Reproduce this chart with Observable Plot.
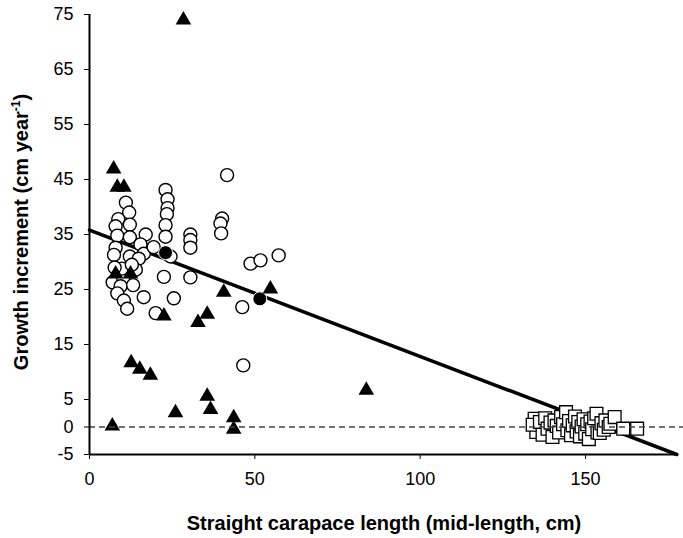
<!DOCTYPE html>
<html><head><meta charset="utf-8">
<script src="https://cdn.jsdelivr.net/npm/d3@7"></script>
<script src="https://cdn.jsdelivr.net/npm/@observablehq/plot@0.6"></script>
<style>body{margin:0;background:#fff} svg{font-family:Arial,"Liberation Sans",sans-serif}</style>
</head><body><div id="chart"></div>
<script>
const xTicks = [0, 50, 100, 150];
const yTicks = [75, 65, 55, 45, 35, 25, 15, 5, 0, -5];
const xTitle = "Straight carapace length (mid-length, cm)";
const yTitleMain = "Growth increment (cm year";
const yTitleSup = "-1";
const yTitleEnd = ")";

// filled triangles
const triX = [28.4, 7.3, 8.4, 10.4, 7.9, 12.4, 12.6, 15.2, 18.4, 6.9, 26.0, 22.5, 32.8, 35.6, 35.6, 36.6, 40.6, 43.6, 43.6, 54.7, 83.7];
const triY = [74.0, 46.9, 43.6, 43.6, 27.8, 27.8, 11.7, 10.5, 9.4, 0.2, 2.6, 20.2, 19.0, 20.5, 5.6, 3.2, 24.5, 1.7, -0.4, 25.1, 6.7];
// open circles
const circX = [11.0, 12.0, 8.7, 12.2, 7.9, 8.4, 12.2, 17.0, 15.4, 7.9, 16.4, 12.2, 7.4, 14.9, 19.4, 24.5, 7.0, 10.2, 9.4, 13.2, 8.4, 10.4, 16.4, 11.4, 22.5, 25.5, 20.0, 23.0, 23.6, 23.6, 23.4, 23.0, 23.0, 30.5, 30.5, 30.5, 30.5, 41.6, 40.1, 39.6, 39.8, 48.7, 51.7, 57.2, 46.2, 46.5, 9.8, 14.0, 7.6, 12.8];
const circY = [40.8, 39.0, 37.8, 36.8, 36.5, 34.8, 34.5, 35.0, 33.2, 32.6, 31.5, 31.0, 31.3, 30.6, 32.7, 31.0, 26.3, 27.0, 25.6, 25.8, 24.3, 23.0, 23.6, 21.5, 27.3, 23.4, 20.7, 43.1, 41.4, 39.8, 38.7, 36.7, 34.6, 35.0, 34.0, 32.6, 27.2, 45.8, 37.9, 37.0, 35.2, 29.7, 30.3, 31.2, 21.8, 11.2, 28.8, 28.6, 29.0, 29.5];
// filled circles
const dotX = [23.0, 51.5];
const dotY = [31.7, 23.3];
// open squares
const sqX = [134.6, 135.1, 134.0, 136.2, 137.0, 137.8, 138.5, 139.4, 140.0, 140.6, 141.3, 142.0, 142.6, 143.2, 144.1, 144.5, 145.0, 145.6, 146.1, 146.8, 147.3, 147.8, 148.3, 148.8, 149.4, 149.9, 150.5, 151.0, 151.5, 152.0, 152.6, 153.3, 153.6, 154.3, 154.8, 155.5, 156.0, 157.0, 157.5, 158.8, 161.4, 165.6];
const sqY = [1.5, -0.9, 0.4, 0.9, -1.4, 1.6, -0.3, 0.8, -1.8, 1.2, 0.2, -1.0, 1.8, 0.5, 2.7, -0.6, 1.1, -1.5, 0.3, 1.9, -0.8, 0.9, -1.7, 0.1, 1.4, -1.2, 0.5, -2.2, 1.0, -0.4, 1.6, 2.4, -1.0, -1.1, 0.7, -0.5, 1.2, 0.0, 0.6, 1.8, -0.3, -0.3];
// regression line end points
const fitX = [0, 177.6];
const fitY = [35.8, -5];

const tri = triX.map((x, i) => ({x, y: triY[i]}));
const circ = circX.map((x, i) => ({x, y: circY[i]}));
const dots = dotX.map((x, i) => ({x, y: dotY[i]}));
const sq = sqX.map((x, i) => ({x, y: sqY[i]}));
const fit = fitX.map((x, i) => ({x, y: fitY[i]}));

const plot = Plot.plot({
  width: 683, height: 538,
  marginLeft: 89, marginRight: 8, marginTop: 14, marginBottom: 84,
  style: {fontFamily: "Arial, 'Liberation Sans', sans-serif", fontSize: "18px", color: "#000", background: "#fff"},
  x: {domain: [0, 177.2]},
  y: {domain: [-5, 75]},
  marks: [
    Plot.line(fit, {x: "x", y: "y", stroke: "#000", strokeWidth: 3.5}),
    Plot.dot(sq, {x: "x", y: "y", symbol: "square", r: 7.2, fill: "#fff", stroke: "#000", strokeWidth: 1.3}),
    Plot.dot(circ, {x: "x", y: "y", r: 6.5, fill: "#fff", stroke: "#000", strokeWidth: 1.4}),
    Plot.dot(dots, {x: "x", y: "y", r: 7, fill: "#000", stroke: "#fff", strokeWidth: 1}),
    Plot.dot(tri, {x: "x", y: "y", symbol: "triangle", r: 5.8, fill: "#000", stroke: "none"}),
    Plot.ruleY([0], {x1: 0, x2: 180, stroke: "#444", strokeWidth: 1.4, strokeDasharray: "6,4"}),
    Plot.ruleX([0], {y1: -5, y2: 75, stroke: "#000", strokeWidth: 2}),
    Plot.ruleY([-5], {x1: 0, x2: 177.2, stroke: "#000", strokeWidth: 2}),
    Plot.axisX({ticks: xTicks, tickSize: 5, tickPadding: 13, fontSize: 18, label: null, tickFormat: d => String(d)}),
    Plot.axisY({ticks: yTicks, tickSize: 5, tickPadding: 11, fontSize: 18, label: null, tickFormat: d => String(d)})
  ]
});

const svg = d3.select(plot);
svg.append("text")
  .attr("x", 384).attr("y", 530)
  .attr("text-anchor", "middle").attr("font-weight", "bold").attr("font-size", 20).attr("fill", "#000")
  .text(xTitle);
const yt = svg.append("text")
  .attr("transform", "translate(28,232) rotate(-90)")
  .attr("text-anchor", "middle").attr("font-weight", "bold").attr("font-size", 20).attr("fill", "#000");
yt.append("tspan").text(yTitleMain);
yt.append("tspan").attr("dy", -8).attr("font-size", 12).text(yTitleSup);
yt.append("tspan").attr("dy", 8).text(yTitleEnd);

document.getElementById("chart").appendChild(plot);
</script>
</body></html>
